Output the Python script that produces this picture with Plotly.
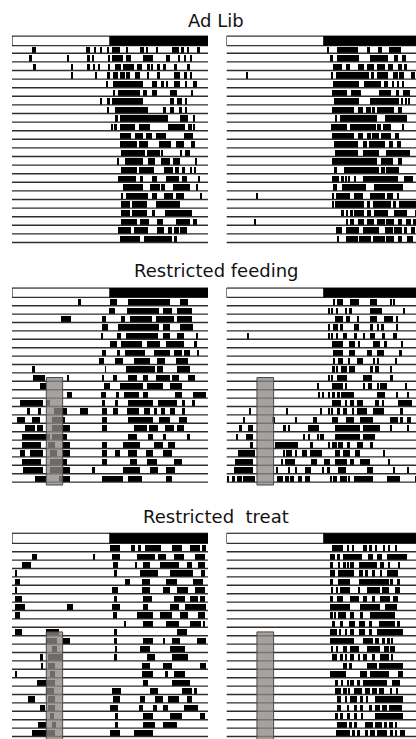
import plotly.graph_objects as go

W, H = 416, 739

TITLES = ["Ad Lib", "Restricted feeding", "Restricted  treat"]
LIGHT_PHASE = [0, 12]
DARK_PHASE = [12, 24]

# activity bouts per day (hours, ZT), one list per day
AD_LIB_LEFT = [
    [[2.4,2.9],[9.1,9.6],[10.1,10.3],[10.8,11.0],[11.7,11.9],[12.2,13.2],[14.0,14.2],[15.7,16.2],[16.5,16.7],[17.7,17.9],[19.6,20.4],[20.8,21.0],[21.4,21.7],[22.6,23.0]],
    [[2.1,2.4],[6.8,7.0],[9.3,9.5],[9.9,10.1],[11.8,12.0],[12.3,13.6],[14.0,14.6],[16.0,17.3],[18.9,19.3],[20.4,20.6],[21.1,21.3],[21.9,22.1]],
    [[2.6,2.9],[7.3,7.5],[9.3,9.5],[10.0,10.2],[10.6,10.8],[11.7,12.0],[12.6,13.4],[13.6,14.9],[15.3,15.9],[16.5,16.9],[17.1,17.3],[17.7,18.1],[18.5,18.9],[19.8,20.2],[21.4,21.8]],
    [[7.3,7.5],[10.2,10.4],[11.6,12.0],[12.4,13.0],[13.2,13.8],[14.0,14.5],[15.1,15.7],[16.5,16.8],[17.7,18.1],[19.8,20.6],[21.0,21.4],[21.8,22.1]],
    [[11.6,11.8],[12.4,16.1],[17.1,17.7],[18.3,18.6],[18.9,19.1],[19.8,20.6],[21.2,21.4],[22.2,22.6]],
    [[12.4,12.6],[13.0,15.7],[16.1,16.5],[17.1,17.7],[19.3,20.2],[22.0,22.2]],
    [[10.8,11.0],[11.6,12.0],[12.2,16.1],[19.3,19.8],[20.2,20.8],[21.2,21.4]],
    [[11.6,11.9],[12.6,16.7],[18.5,18.9],[19.3,19.8],[20.4,20.8],[21.2,21.4]],
    [[12.6,13.0],[13.2,19.1],[20.6,21.6],[22.2,22.4]],
    [[12.2,12.3],[12.5,12.6],[12.7,12.8],[13.2,15.0],[15.5,16.9],[19.1,21.2],[21.6,22.0],[22.2,22.4]],
    [[13.2,14.6],[15.1,16.1],[16.4,17.1],[17.6,18.9],[21.0,22.2]],
    [[13.2,15.3],[15.6,16.7],[18.0,19.5],[20.1,21.0],[21.9,22.4]],
    [[13.4,16.3],[16.5,18.1],[18.3,18.5],[20.6,20.8],[21.2,21.8]],
    [[12.9,13.1],[13.8,16.1],[16.6,17.5],[18.2,19.3],[19.7,20.6],[22.4,22.7]],
    [[13.4,15.3],[15.6,17.4],[18.6,19.7],[20.0,20.4],[20.8,21.2],[21.8,22.0],[22.3,22.5]],
    [[13.0,15.2],[15.7,16.1],[17.1,17.7],[18.9,20.4],[20.8,21.4],[22.8,23.0]],
    [[13.6,16.1],[16.9,18.1],[18.3,18.7],[19.7,21.8],[22.6,22.8]],
    [[13.4,13.6],[14.0,16.7],[17.1,17.7],[18.6,19.7],[20.1,21.0],[23.0,23.3]],
    [[13.4,14.4],[14.7,16.5],[17.6,20.6]],
    [[13.4,14.4],[14.7,16.5],[17.1,17.5],[18.7,22.0]],
    [[13.3,15.3],[15.7,16.8],[17.7,18.5],[20.1,21.8],[22.2,22.6]],
    [[13.0,14.6],[14.9,16.7],[17.7,18.6],[19.1,19.6],[19.8,20.4],[20.6,21.4]],
    [[13.2,15.7],[16.2,19.6],[19.8,20.2]],
]

AD_LIB_RIGHT = [
    [[12.4,12.6],[13.6,16.1],[17.2,17.6],[18.6,19.1],[19.9,21.4]],
    [[12.7,13.1],[13.6,16.3],[17.6,19.8],[20.6,21.1],[21.6,22.0]],
    [[13.0,14.2],[14.6,15.2],[16.1,16.9],[17.2,18.1],[18.5,19.4],[19.8,20.4],[21.0,21.6],[21.8,22.2]],
    [[2.4,2.6],[12.8,13.1],[13.4,17.5],[17.7,18.1],[18.5,19.8],[20.4,21.0],[21.2,21.8],[22.7,23.1]],
    [[13.1,16.3],[16.9,19.0],[19.3,19.8],[20.4,20.6],[21.0,21.2],[21.6,21.8]],
    [[12.9,14.8],[15.3,16.5],[18.7,20.2],[20.8,21.2],[21.7,22.5]],
    [[13.2,16.3],[17.6,21.2],[21.5,21.7],[21.9,22.2],[22.3,22.5]],
    [[12.9,15.7],[16.1,16.7],[17.1,17.7],[17.9,18.2],[18.5,20.6],[21.0,21.6]],
    [[13.3,13.6],[13.9,18.5],[19.4,22.2]],
    [[12.8,14.8],[15.2,18.3],[18.5,19.0],[19.2,20.2],[21.5,21.8]],
    [[12.9,15.7],[16.1,16.7],[17.3,17.7],[17.9,18.7],[19.0,20.2],[20.7,21.2]],
    [[13.2,16.1],[16.7,17.3],[17.5,19.4],[20.0,20.5],[20.9,21.4]],
    [[13.3,16.1],[16.7,18.7],[19.6,22.5]],
    [[12.9,18.5],[19.0,20.4],[21.0,21.6]],
    [[13.2,13.5],[14.4,18.7],[19.0,19.4],[19.6,21.2]],
    [[12.9,13.8],[14.1,14.4],[14.6,14.8],[15.0,15.2],[15.6,15.9],[16.7,21.0],[21.8,22.9]],
    [[13.1,13.6],[14.2,17.1],[18.1,21.4],[21.5,21.7]],
    [[3.6,3.8],[13.0,13.1],[13.4,15.2],[15.6,16.7],[17.6,19.4],[19.7,20.4],[21.0,21.2]],
    [[13.0,13.1],[13.3,16.9],[17.3,17.6],[18.0,20.2],[20.5,20.8],[21.2,23.5]],
    [[14.0,14.4],[14.6,14.9],[15.2,15.5],[15.7,16.9],[17.3,17.7],[18.1,19.8],[20.6,22.2],[23.1,23.5]],
    [[3.4,3.6],[14.6,14.9],[15.2,15.7],[16.1,16.9],[17.3,18.1],[18.5,19.4],[19.6,20.6],[21.0,21.6],[22.0,22.7],[22.9,23.5]],
    [[13.4,14.2],[14.6,16.3],[16.7,18.7],[19.4,20.4],[20.6,21.6],[21.8,22.2],[22.7,23.1]],
    [[13.5,13.8],[14.6,16.1],[16.3,17.7],[18.0,19.4],[19.6,20.6],[21.0,21.6],[22.2,22.9]],
]

FEEDING_LEFT = [
    [[8.1,8.5],[12.0,12.8],[14.2,19.3],[20.6,21.6]],
    [[11.9,12.6],[14.1,18.0],[18.5,19.6],[20.2,22.0]],
    [[6.0,7.2],[11.0,11.5],[13.3,13.8],[14.5,17.1],[17.6,19.8],[20.2,22.0]],
    [[11.0,11.8],[13.0,18.0],[18.5,19.3],[20.6,22.2]],
    [[11.0,11.2],[12.8,13.4],[13.9,17.9],[18.5,19.3],[20.2,21.0],[22.6,22.8]],
    [[12.0,12.8],[13.4,15.9],[16.5,18.1],[18.9,21.0],[22.4,22.6]],
    [[11.0,11.5],[12.8,13.2],[13.8,16.3],[17.4,19.3],[19.8,20.8],[21.0,21.8],[22.6,22.9]],
    [[10.6,11.3],[12.6,13.6],[14.9,16.9],[17.7,18.7],[20.1,21.6]],
    [[2.5,2.8],[11.4,11.5],[14.0,17.5],[17.7,18.5],[20.2,21.8]],
    [[2.6,4.0],[6.8,7.0],[11.0,11.3],[12.4,12.8],[14.2,15.3],[16.0,16.7],[17.6,19.3],[19.6,20.4],[21.6,22.4]],
    [[3.4,4.2],[11.3,12.0],[13.2,16.1],[16.5,18.5],[19.3,20.8]],
    [[6.7,7.4],[10.9,11.5],[12.7,13.1],[13.7,15.5],[16.0,16.7],[20.0,20.8],[22.2,23.8]],
    [[1.0,3.8],[4.2,4.7],[11.0,11.4],[12.6,13.0],[14.2,17.3],[17.9,20.2],[20.8,21.2],[22.0,22.4]],
    [[1.8,2.2],[3.2,3.6],[5.1,6.7],[8.3,9.3],[11.0,11.6],[12.4,13.0],[14.1,15.5],[16.2,16.9],[17.4,17.7],[18.3,18.7],[19.3,20.0],[20.8,21.2]],
    [[0.6,1.6],[2.4,3.4],[4.9,6.5],[11.0,11.6],[14.2,17.3],[18.0,19.3],[20.4,21.4]],
    [[1.6,2.8],[3.0,3.8],[4.9,7.1],[11.0,11.6],[14.9,16.5],[16.8,17.9],[18.7,19.8],[20.2,21.0]],
    [[1.2,4.6],[4.9,6.7],[14.2,15.3],[16.7,17.3],[18.5,18.9],[21.4,21.8]],
    [[1.2,3.6],[4.4,5.3],[6.3,7.1],[11.0,11.6],[13.6,15.7],[17.4,18.5],[19.1,20.0]],
    [[1.0,1.6],[2.2,3.8],[4.7,5.5],[6.3,7.1],[11.0,11.6],[12.6,13.2],[14.2,15.3],[16.4,17.3],[18.5,19.6]],
    [[1.2,3.6],[4.7,6.7],[11.0,11.6],[14.4,15.3],[16.5,17.7],[19.8,20.8]],
    [[1.4,3.8],[4.7,6.1],[6.3,7.1],[9.8,10.2],[13.6,15.7],[16.9,17.9],[18.9,20.0]],
    [[2.8,4.2],[5.7,7.1],[11.0,13.6],[14.2,15.9],[18.9,19.6]],
]

FEEDING_RIGHT = [
    [[13.0,13.3],[13.5,14.3],[15.2,16.2],[17.6,18.5],[20.1,20.3],[20.5,20.7]],
    [[12.5,12.7],[12.9,13.1],[13.4,13.7],[14.6,14.8],[15.0,15.4],[17.6,19.1],[21.7,21.9]],
    [[13.3,14.3],[14.6,15.2],[16.0,16.3],[17.6,18.5],[19.3,20.5],[20.9,21.1]],
    [[12.5,12.7],[13.0,13.7],[13.9,14.3],[15.6,16.2],[17.6,18.0],[18.5,18.7],[19.0,19.3],[20.9,21.1]],
    [[2.5,2.7],[12.5,12.7],[12.9,13.1],[13.4,13.7],[14.3,14.8],[15.6,16.0],[16.8,17.0],[17.6,18.2],[19.1,19.5],[20.5,20.9]],
    [[12.9,14.3],[15.0,15.8],[16.2,16.4],[18.0,18.9],[19.3,19.7],[21.5,21.7]],
    [[13.0,14.3],[15.0,15.8],[17.2,17.8],[18.5,19.3],[21.3,21.5]],
    [[13.1,13.3],[13.7,14.3],[15.0,15.2],[16.0,16.8],[18.0,18.2],[18.5,18.7],[20.7,20.9]],
    [[12.9,13.3],[13.5,13.7],[14.1,14.8],[15.0,15.8],[17.6,18.0],[18.2,18.7],[20.1,20.3]],
    [[12.5,12.7],[12.9,13.1],[13.6,14.8],[16.8,17.8],[20.1,20.5]],
    [[11.1,11.3],[12.9,14.3],[14.6,14.8],[16.8,17.0],[17.4,17.8],[18.5,18.7],[18.9,19.7],[21.9,22.2]],
    [[11.3,11.5],[11.7,11.9],[12.5,12.7],[12.9,13.3],[13.5,13.9],[14.1,15.6],[18.5,19.5],[20.9,21.1],[22.2,22.4]],
    [[12.9,14.1],[14.6,14.8],[15.2,15.6],[16.0,16.8],[18.2,18.7],[19.1,19.3],[21.0,22.8]],
    [[2.8,3.0],[7.3,7.4],[11.5,11.7],[12.5,12.7],[12.9,13.1],[13.5,13.9],[14.3,14.8],[15.4,15.6],[16.0,17.2],[18.0,19.3],[21.3,21.7]],
    [[2.0,2.2],[5.5,5.9],[8.4,8.6],[10.6,11.1],[12.9,13.7],[14.6,15.6],[16.4,18.0],[20.1,21.1],[21.3,21.7],[22.2,22.6]],
    [[1.6,1.8],[2.6,3.2],[6.9,7.3],[7.6,7.8],[10.0,11.3],[13.3,16.4],[16.8,18.9],[20.1,20.3],[22.2,22.4]],
    [[1.2,1.4],[2.4,3.2],[9.4,9.6],[10.0,10.2],[11.1,11.3],[11.5,11.9],[13.3,16.4],[16.8,18.2]],
    [[2.8,3.2],[5.9,8.8],[10.2,10.6],[12.5,12.7],[12.9,13.5],[13.7,14.3],[14.8,15.2],[16.0,16.8],[17.6,18.0]],
    [[1.4,3.4],[6.9,7.1],[7.3,8.0],[8.4,8.6],[9.2,9.8],[10.2,11.7],[13.3,13.9],[14.3,15.2],[15.8,16.4],[19.3,19.5]],
    [[1.0,3.2],[6.7,6.9],[7.1,8.4],[10.4,11.1],[11.9,12.7],[13.3,14.8],[15.2,15.6],[16.4,17.6],[19.9,20.1]],
    [[0.8,3.2],[6.1,6.3],[7.6,7.8],[8.4,8.6],[9.6,10.4],[11.7,11.9],[12.3,12.7],[13.7,14.6],[17.2,18.0],[20.5,20.7],[22.2,22.4]],
    [[0.1,0.3],[0.6,1.0],[1.2,1.8],[2.0,3.4],[6.1,6.9],[7.1,7.6],[7.8,8.2],[8.8,9.2],[9.6,10.2],[12.7,12.9],[13.1,13.5],[13.9,14.8],[15.0,15.2],[15.6,18.0],[19.7,21.3],[23.2,23.6]],
]

TREAT_LEFT = [
    [[12.0,13.2],[14.6,15.0],[15.4,15.8],[16.3,18.3],[19.6,20.8],[21.8,23.0],[23.3,23.8]],
    [[2.4,3.1],[9.9,10.2],[12.2,13.2],[15.3,17.5],[17.9,18.9],[19.8,21.0],[22.4,23.6]],
    [[1.2,2.3],[12.4,13.0],[15.1,15.3],[16.1,16.9],[18.1,20.4],[21.4,22.0],[22.8,23.6]],
    [[0.4,0.6],[12.6,12.8],[15.7,17.9],[19.3,22.2],[23.2,23.6]],
    [[0.4,1.0],[13.8,14.5],[15.9,16.9],[18.9,20.2],[22.2,23.4]],
    [[0.4,0.6],[12.2,13.0],[15.9,16.9],[18.5,19.3],[20.2,21.6],[22.4,23.6]],
    [[0.4,1.2],[12.6,12.8],[16.1,17.1],[19.8,21.2],[21.8,22.8],[23.0,23.6]],
    [[0.4,1.6],[6.7,7.5],[12.2,13.2],[16.1,16.7],[19.3,20.4],[21.2,23.8]],
    [[0.4,1.0],[12.4,12.8],[15.3,17.3],[18.1,19.6],[20.6,21.6],[22.8,23.6]],
    [[13.8,13.9],[16.1,17.3],[18.9,20.4],[21.8,23.2],[23.4,23.6]],
    [[0.4,1.2],[4.2,5.7],[12.6,12.8],[20.2,21.4]],
    [[4.2,5.5],[6.3,7.1],[12.6,12.8],[16.1,17.3],[18.5,18.7],[19.6,20.6],[22.6,23.8]],
    [[4.9,5.5],[12.6,12.9],[15.7,16.9],[19.3,21.2]],
    [[3.4,3.8],[4.4,6.1],[12.6,12.8],[16.5,17.5],[19.6,21.6]],
    [[3.6,3.8],[4.4,5.3],[15.9,16.9],[18.5,19.6],[23.0,23.8]],
    [[0.4,0.6],[4.7,5.3],[15.9,17.3],[18.7,19.1],[19.8,21.2]],
    [[3.0,5.3],[16.1,16.7],[19.6,21.8]],
    [[4.2,5.1],[12.2,13.4],[16.9,17.9],[20.8,22.0],[22.4,22.6]],
    [[2.0,2.8],[4.4,5.3],[12.4,13.2],[15.7,16.3],[17.5,18.5],[19.1,20.4],[21.4,22.0]],
    [[3.4,4.0],[4.4,5.3],[12.0,13.0],[15.5,16.1],[17.3,17.7],[18.5,19.1],[21.0,22.8]],
    [[4.7,5.1],[12.6,13.0],[16.1,17.3],[19.3,20.8],[23.0,23.6]],
    [[3.2,4.2],[4.9,5.4],[12.6,13.0],[16.1,17.5],[18.5,20.2]],
    [[2.4,5.3],[12.0,13.2],[14.9,17.3]],
]

TREAT_RIGHT = [
    [[12.9,14.3],[14.8,15.0],[15.4,15.6],[16.8,17.2],[17.6,17.8],[18.2,18.5],[19.3,19.5],[19.9,20.1],[20.7,20.9]],
    [[12.7,13.3],[13.5,13.9],[14.3,16.6],[17.4,18.0],[18.5,19.1],[19.7,22.2]],
    [[12.7,13.1],[13.7,13.9],[14.3,14.6],[14.8,15.0],[15.2,15.6],[16.2,18.5],[18.9,19.3],[19.9,20.1],[21.1,21.3]],
    [[12.7,13.3],[13.7,15.6],[16.2,16.8],[17.0,17.4],[17.8,18.2],[18.9,19.1],[19.7,21.1]],
    [[12.7,13.1],[13.7,15.2],[16.2,19.9],[20.1,20.5],[20.9,21.3]],
    [[12.9,13.1],[13.5,13.7],[13.9,15.2],[16.2,16.4],[17.2,18.9],[19.1,19.9],[20.7,21.3]],
    [[12.7,13.1],[13.5,14.3],[15.2,16.2],[16.8,17.2],[17.8,18.2],[18.9,20.1],[20.5,21.1]],
    [[12.7,15.2],[16.4,18.9],[19.5,20.9]],
    [[12.8,13.0],[13.2,13.4],[13.7,14.6],[15.2,15.6],[16.4,16.8],[17.6,20.7]],
    [[12.9,13.3],[13.9,14.3],[15.0,15.8],[16.2,17.0],[17.6,17.8],[18.7,20.7],[20.9,21.3]],
    [[12.7,13.5],[13.9,14.1],[14.6,14.8],[15.2,15.6],[16.2,17.0],[17.6,17.8],[18.5,21.7]],
    [[12.7,15.6],[16.8,18.0],[18.2,18.7],[19.1,19.5],[19.7,20.1],[20.3,20.5]],
    [[12.9,13.1],[13.5,13.7],[14.3,14.8],[15.2,16.2],[17.2,18.9],[19.3,19.9],[20.1,20.7]],
    [[12.9,13.5],[13.9,14.3],[14.6,14.8],[15.2,15.6],[16.2,16.4],[16.8,17.2],[17.8,18.2],[18.9,19.9],[20.3,20.5]],
    [[14.3,14.8],[15.0,15.4],[17.2,18.5],[18.7,21.7]],
    [[12.7,14.6],[16.4,17.2],[17.6,19.9],[21.1,21.7]],
    [[13.3,13.7],[14.1,14.3],[14.8,15.0],[15.2,15.6],[16.0,16.4],[16.8,19.7],[20.3,21.3]],
    [[13.3,14.1],[14.3,14.8],[15.0,15.2],[15.6,16.6],[17.0,17.6],[17.8,18.5],[18.7,19.3],[20.1,20.3],[20.9,21.1]],
    [[13.5,14.1],[14.6,14.8],[15.2,16.0],[16.4,16.8],[17.2,17.4],[18.2,21.7]],
    [[13.5,14.1],[14.8,15.0],[15.6,16.0],[16.4,16.8],[17.6,17.8],[18.2,18.9],[19.1,19.7],[19.9,21.5]],
    [[13.3,13.7],[13.9,14.3],[14.8,15.2],[15.6,16.0],[16.6,16.8],[18.2,21.7]],
    [[13.5,14.8],[15.0,15.4],[15.6,16.0],[17.0,18.0],[18.2,19.1],[19.3,19.7],[19.9,20.5],[20.7,20.9]],
    [[13.4,15.2],[15.4,15.8],[16.0,16.4],[17.0,17.4],[17.6,18.2],[18.5,19.7],[20.1,20.5],[20.7,20.9],[21.3,21.9]],
]

# restricted access window (hours) and the days it applies to
FEED_WINDOW = {"left": [4.2, 6.2], "right": [3.75, 5.8]}
FEED_DAYS = {1: [10, 22], 2: [11, 23]}

# ---------------- layout geometry ----------------
SECTIONS = [
    dict(top=30, bottom=252, y0=44.7, pitch=8.6, ld_top=-1.0, ld_bot=0.12, title_y=20.5),
    dict(top=281, bottom=497, y0=297.3, pitch=8.4, ld_top=-1.1, ld_bot=0.0, title_y=271.0),
    dict(top=527, bottom=739, y0=543.3, pitch=8.4, ld_top=-1.2, ld_bot=0.0, title_y=516.5),
]
LEFT_X = (12.0, 208.0)      # pixels for 0..24 h
RIGHT_X0 = 226.5
RIGHT_PXH = 8.12
BAR_H = 0.78

panels = [
    (0, "left", AD_LIB_LEFT), (0, "right", AD_LIB_RIGHT),
    (1, "left", FEEDING_LEFT), (1, "right", FEEDING_RIGHT),
    (2, "left", TREAT_LEFT), (2, "right", TREAT_RIGHT),
]

fig = go.Figure()
layout = dict(width=W, height=H, margin=dict(l=0, r=0, t=0, b=0),
              paper_bgcolor="white", plot_bgcolor="white",
              showlegend=False, barmode="overlay", bargap=0)
shapes = []
annotations = []

for i, (sec, side, days) in enumerate(panels, start=1):
    g = SECTIONS[sec]
    xa = "x" if i == 1 else f"x{i}"
    ya = "y" if i == 1 else f"y{i}"
    if side == "left":
        xdom = [LEFT_X[0] / W, LEFT_X[1] / W]
        xrng = [0, 24]
    else:
        xdom = [RIGHT_X0 / W, 1.0]
        xrng = [0, (W - RIGHT_X0) / RIGHT_PXH]
    ydom = [1 - g["bottom"] / H, 1 - g["top"] / H]
    u_top = (g["top"] - g["y0"]) / g["pitch"]
    u_bot = (g["bottom"] - g["y0"]) / g["pitch"]
    layout["xaxis" if i == 1 else f"xaxis{i}"] = dict(
        domain=xdom, range=xrng, visible=False, fixedrange=True, anchor=ya)
    layout["yaxis" if i == 1 else f"yaxis{i}"] = dict(
        domain=ydom, range=[u_bot, u_top], visible=False, fixedrange=True, anchor=xa)

    # activity bars
    ys, xs, bases = [], [], []
    for d, bouts in enumerate(days, start=1):
        for s, e in bouts:
            ys.append(d - BAR_H / 2)
            xs.append(e - s)
            bases.append(s)
    fig.add_trace(go.Bar(x=xs, base=bases, y=ys, orientation="h", width=BAR_H,
                         marker=dict(color="black", line=dict(width=0)),
                         xaxis=xa, yaxis=ya, hoverinfo="skip"))
    # baselines
    lx, ly = [], []
    for d in range(1, len(days) + 1):
        lx += [0, 24, None]
        ly += [d, d, None]
    fig.add_trace(go.Scatter(x=lx, y=ly, mode="lines",
                             line=dict(color="#2e2e2e", width=1.4),
                             xaxis=xa, yaxis=ya, hoverinfo="skip"))
    # light/dark bar
    shapes.append(dict(type="rect", xref=xa, yref=ya, x0=LIGHT_PHASE[0], x1=LIGHT_PHASE[1],
                       y0=g["ld_top"], y1=g["ld_bot"], fillcolor="white",
                       line=dict(color="black", width=1)))
    shapes.append(dict(type="rect", xref=xa, yref=ya, x0=DARK_PHASE[0], x1=DARK_PHASE[1],
                       y0=g["ld_top"], y1=g["ld_bot"], fillcolor="black",
                       line=dict(color="black", width=1)))
    # restricted window
    if sec in FEED_DAYS:
        d0, d1 = FEED_DAYS[sec]
        w0, w1 = FEED_WINDOW[side]
        y_end = d1 + 0.35 if sec == 1 else d1 + 2
        shapes.append(dict(type="rect", xref=xa, yref=ya, x0=w0, x1=w1,
                           y0=d0 - 0.45, y1=y_end, fillcolor="rgba(140,136,132,0.78)",
                           line=dict(color="#4a4a4a", width=1), layer="above"))

for sec, g in enumerate(SECTIONS):
    annotations.append(dict(text=TITLES[sec], xref="paper", yref="paper",
                            x=216 / W, y=1 - g["title_y"] / H, xanchor="center",
                            yanchor="middle", showarrow=False,
                            font=dict(family="DejaVu Sans", size=18, color="#111111")))

layout["shapes"] = shapes
layout["annotations"] = annotations
fig.update_layout(**layout)
fig.write_html("out.html", config={"displayModeBar": False})
